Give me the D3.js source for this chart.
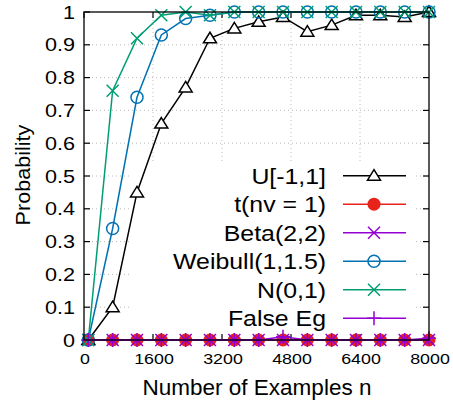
<!DOCTYPE html>
<html lang="en">
<head>
  <meta charset="UTF-8">
  <script src="https://d3js.org/d3.v7.min.js"></script>
  <style>
    body { margin: 0; background: #fff; }
    text { font-family: "Liberation Sans", Arial, sans-serif; fill: #000; }
  </style>
  <title>Probability vs examples</title>
</head>
<body>
  <svg id="chart" width="453" height="402"></svg>
  <script>
    // sample sizes (15 evenly spaced from 100 to 8000)
    var nValues = [100, 664, 1229, 1793, 2357, 2921, 3486, 4050, 4614, 5179, 5743, 6307, 6871, 7436, 8000];
    var uniform = [0, 0.10, 0.45, 0.66, 0.77, 0.92, 0.95, 0.97, 0.985, 0.94, 0.96, 0.99, 0.99, 0.985, 1.0];
    var tDist   = [0, 0, 0, 0, 0, 0, 0, 0, 0, 0, 0, 0, 0, 0, 0];
    var beta    = [0, 0, 0, 0, 0, 0, 0, 0, 0, 0, 0, 0, 0, 0, 0];
    var weibull = [0, 0.34, 0.74, 0.93, 0.98, 0.99, 1, 1, 1, 1, 1, 1, 1, 1, 1];
    var normal  = [0, 0.76, 0.92, 0.99, 1.0, 0.99, 1, 1, 1, 1, 1, 1, 1, 1, 1];
    var falseEg = [0, 0, 0, 0, 0, 0, 0, 0, 0.01, 0, 0, 0, 0, 0, 0.005];
    var xTicks = [0, 1600, 3200, 4800, 6400, 8000];
    var yTicks = [0, 0.1, 0.2, 0.3, 0.4, 0.5, 0.6, 0.7, 0.8, 0.9, 1];

    var series = [
      {name: 'U[-1,1]', vals: uniform, color: '#000000', mark: 'tri'},
      {name: 't(nv = 1)', vals: tDist, color: '#e8231a', mark: 'dot'},
      {name: 'Beta(2,2)', vals: beta, color: '#9400d3', mark: 'x'},
      {name: 'Weibull(1,1.5)', vals: weibull, color: '#0072b2', mark: 'circ'},
      {name: 'N(0,1)', vals: normal, color: '#009e73', mark: 'x'},
      {name: 'False Eg', vals: falseEg, color: '#9400d3', mark: 'plus'}
    ];

    var L = 84, R = 429, T = 12, B = 340;
    var x = d3.scaleLinear().domain([0, 8000]).range([L, R]);
    var y = d3.scaleLinear().domain([0, 1]).range([B, T]);
    var svg = d3.select('#chart');

    // grid
    svg.append('g').selectAll('line').data(yTicks.slice(1, -1)).enter().append('line')
      .attr('x1', L).attr('x2', R).attr('y1', d => y(d)).attr('y2', d => y(d))
      .attr('stroke', '#bbb').attr('stroke-width', 1).attr('stroke-dasharray', '1,3');
    svg.append('g').selectAll('line').data(xTicks.slice(1, -1)).enter().append('line')
      .attr('y1', T).attr('y2', B).attr('x1', d => x(d)).attr('x2', d => x(d))
      .attr('stroke', '#bbb').attr('stroke-width', 1).attr('stroke-dasharray', '1,3');

    // opaque key box
    svg.append('rect').attr('x', 131).attr('y', 161).attr('width', 284).attr('height', 172).attr('fill', '#fff');

    // ticks (inside, mirrored)
    var tk = svg.append('g').attr('stroke', '#000').attr('stroke-width', 1.2);
    yTicks.forEach(function(v) {
      tk.append('line').attr('x1', L).attr('x2', L + 6).attr('y1', y(v)).attr('y2', y(v));
      tk.append('line').attr('x1', R - 6).attr('x2', R).attr('y1', y(v)).attr('y2', y(v));
    });
    xTicks.forEach(function(v) {
      tk.append('line').attr('x1', x(v)).attr('x2', x(v)).attr('y1', B).attr('y2', B - 6);
      tk.append('line').attr('x1', x(v)).attr('x2', x(v)).attr('y1', T).attr('y2', T + 6);
    });

    function marker(g, type, color) {
      if (type === 'tri') {
        g.append('path').attr('d', 'M0,-6L6.5,4.5L-6.5,4.5Z').attr('fill', '#fff').attr('stroke', color).attr('stroke-width', 1.5);
      } else if (type === 'dot') {
        g.append('circle').attr('r', 6.5).attr('fill', color);
      } else if (type === 'circ') {
        g.append('circle').attr('r', 6).attr('fill', 'none').attr('stroke', color).attr('stroke-width', 1.5);
      } else if (type === 'x') {
        g.append('path').attr('d', 'M-6,-6L6,6M-6,6L6,-6').attr('stroke', color).attr('stroke-width', 1.5);
      } else if (type === 'plus') {
        g.append('path').attr('d', 'M-7,0L7,0M0,-7L0,7').attr('stroke', color).attr('stroke-width', 1.5);
      }
    }

    var line = d3.line().x(d => x(d[0])).y(d => y(d[1]));
    series.forEach(function(s) {
      var pts = nValues.map((n, i) => [n, s.vals[i]]);
      svg.append('path').datum(pts).attr('d', line).attr('fill', 'none')
        .attr('stroke', s.color).attr('stroke-width', 1.5);
      pts.forEach(function(p) {
        var g = svg.append('g').attr('transform', 'translate(' + x(p[0]) + ',' + y(p[1]) + ')');
        marker(g, s.mark, s.color);
      });
    });

    // frame
    svg.append('rect').attr('x', L).attr('y', T).attr('width', R - L).attr('height', B - T)
      .attr('fill', 'none').attr('stroke', '#000').attr('stroke-width', 1.3);

    // key
    series.forEach(function(s, i) {
      var cy = 175.7 + i * 28.5;
      svg.append('text').attr('transform', 'translate(326,' + (cy + 8) + ') scale(1.13,1)')
        .attr('text-anchor', 'end').style('font-size', '22px').text(s.name);
      svg.append('line').attr('x1', 343).attr('x2', 406).attr('y1', cy).attr('y2', cy)
        .attr('stroke', s.color).attr('stroke-width', 1.5);
      marker(svg.append('g').attr('transform', 'translate(374,' + cy + ')'), s.mark, s.color);
    });

    // tick labels
    yTicks.forEach(function(v) {
      svg.append('text').attr('transform', 'translate(75,' + (y(v) + 6.5) + ') scale(1.2,1)')
        .attr('text-anchor', 'end').style('font-size', '18px').text(d3.format('~g')(v));
    });
    xTicks.forEach(function(v) {
      svg.append('text').attr('transform', 'translate(' + (x(v) + 1) + ',364) scale(1.15,1)')
        .attr('text-anchor', 'middle').style('font-size', '15.5px').text(v);
    });

    svg.append('text').attr('x', 257).attr('y', 395).attr('text-anchor', 'middle')
      .style('font-size', '22.5px').text('Number of Examples n');
    svg.append('text').attr('transform', 'translate(30,175) rotate(-90) scale(1.08,1)')
      .attr('text-anchor', 'middle').style('font-size', '20px').text('Probability');
  </script>
</body>
</html>
